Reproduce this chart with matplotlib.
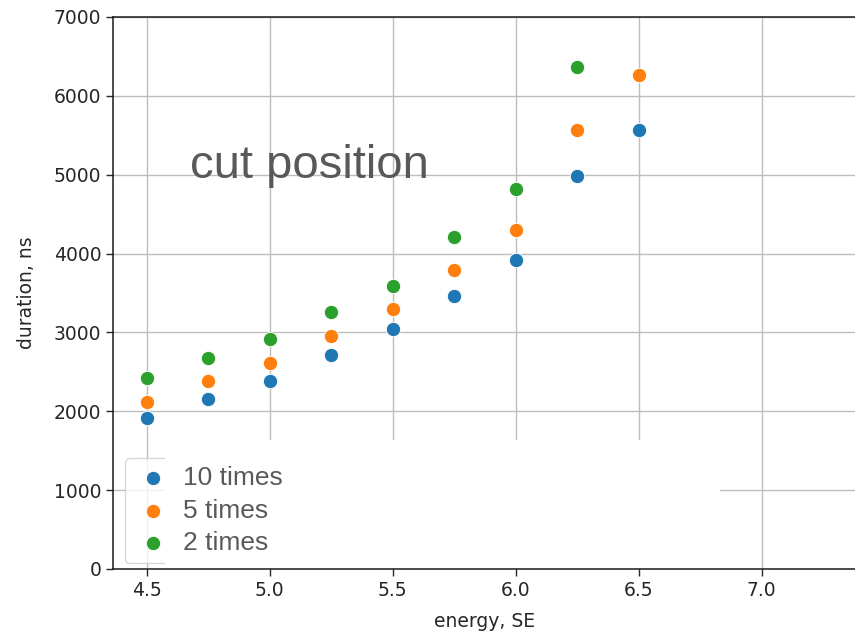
import matplotlib
matplotlib.use("Agg")
import matplotlib.pyplot as plt
from matplotlib.patches import Rectangle

# energy grid (SE) and pulse durations (ns) for each repetition count
energy = [4.5, 4.75, 5.0, 5.25, 5.5, 5.75, 6.0, 6.25, 6.5]
dur_10 = [1910, 2155, 2385, 2710, 3045, 3460, 3915, 4985, 5565]
dur_5 = [2115, 2385, 2610, 2950, 3295, 3790, 4300, 5565, 6265]
dur_2 = [2420, 2675, 2915, 3255, 3590, 4210, 4815, 6365]
series_labels = ["10 times", "5 times", "2 times"]
series_colors = ["#1f77b4", "#ff7f0e", "#2ca02c"]

W, H = 855, 634
fig = plt.figure(figsize=(W / 100, H / 100), dpi=100)

def px(x, y):
    return x / W, (H - y) / H

left, bottom = px(113, 569)
_, top = px(0, 17)
ax = fig.add_axes([left, bottom, (857 - 113) / W, top - bottom])

series = [dur_10, dur_5, dur_2]
handles = []
for vals, lab, col in zip(series, series_labels, series_colors):
    h = ax.scatter(energy[:len(vals)], vals, s=105, color=col,
                   edgecolor="white", linewidth=0.6, label=lab, zorder=3)
    handles.append(h)

ax.set_xlim(4.3625, 7.3875)
ax.set_ylim(0, 7000)
ax.set_xticks([4.5, 5.0, 5.5, 6.0, 6.5, 7.0])
ax.set_yticks(range(0, 7001, 1000))
ax.grid(True, color="#bdbdbd", linewidth=1.0)
ax.set_axisbelow("line")

tick_color = "#262626"
ax.tick_params(labelsize=13.5, colors=tick_color, length=5, width=1.0)
for sp in ax.spines.values():
    sp.set_linewidth(1.1)
    sp.set_color("#1a1a1a")
ax.set_xlabel("energy, SE", fontsize=13.5, color=tick_color, labelpad=9)
ax.set_ylabel("duration, ns", fontsize=13.5, color=tick_color, labelpad=13)

# white panel behind the enlarged legend labels
rx0, ry0 = px(165, 568)
rx1, ry1 = px(720, 440)
ax.add_patch(Rectangle((rx0, ry0), rx1 - rx0, ry1 - ry0, transform=fig.transFigure,
                       facecolor="white", edgecolor="none", zorder=2))

lx, ly = px(125, 458)
leg = ax.legend(handles=handles, labels=series_labels, loc="upper left",
                bbox_to_anchor=(lx, ly), bbox_transform=fig.transFigure,
                borderaxespad=0, prop={"family": "Liberation Sans", "size": 19},
                labelcolor="#595959", handlelength=1.52, handletextpad=0.38,
                labelspacing=0.33, borderpad=0.3, markerscale=1.0, framealpha=0.8)
cx, _ = px(165, 0)
leg.get_frame().set_clip_path(Rectangle((0, 0), cx, 1, transform=fig.transFigure))

tx, ty = px(190, 178)
fig.text(tx, ty, "cut position", fontsize=34, family="Liberation Sans",
         color="#595959", va="baseline", ha="left")

fig.savefig("out.png", dpi=100)
